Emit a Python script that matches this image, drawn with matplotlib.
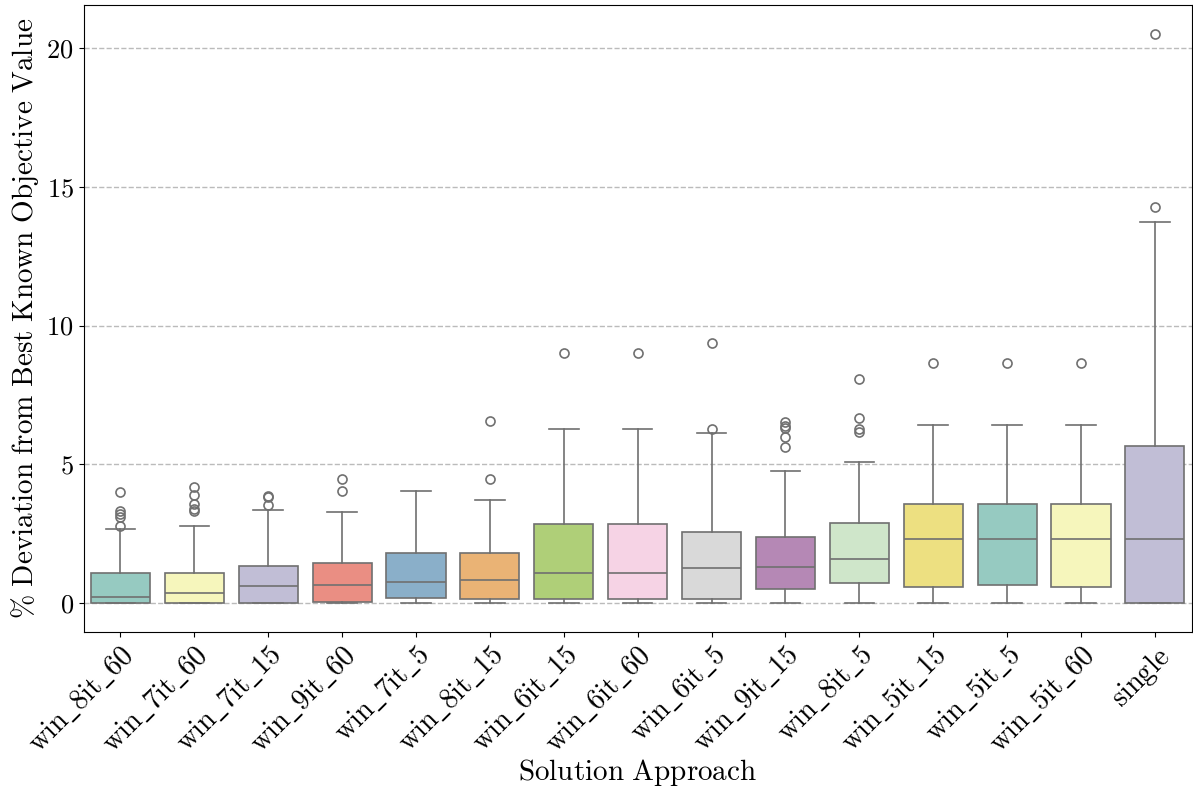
import colorsys
import matplotlib
matplotlib.use("Agg")
import matplotlib.pyplot as plt
from matplotlib.colors import to_rgb

plt.rcParams['mathtext.fontset'] = 'cm'
plt.rcParams['font.family'] = ['cmr10', 'DejaVu Serif']
plt.rcParams['axes.formatter.use_mathtext'] = True

approaches = ['win_8it_60', 'win_7it_60', 'win_7it_15', 'win_9it_60', 'win_7it_5',
              'win_8it_15', 'win_6it_15', 'win_6it_60', 'win_6it_5', 'win_9it_15',
              'win_8it_5', 'win_5it_15', 'win_5it_5', 'win_5it_60', 'single']

# quartiles, medians and whisker ends (% deviation)
q1 = [0.0, 0.0, 0.0, 0.04, 0.2, 0.17, 0.17, 0.17, 0.17, 0.53, 0.75, 0.6, 0.67, 0.6, 0.0]
med = [0.24, 0.38, 0.61, 0.67, 0.78, 0.83, 1.11, 1.11, 1.29, 1.32, 1.61, 2.32, 2.32, 2.32, 2.32]
q3 = [1.11, 1.11, 1.36, 1.47, 1.83, 1.80, 2.87, 2.87, 2.57, 2.38, 2.91, 3.59, 3.59, 3.59, 5.67]
whislo = [0.0, 0.0, 0.0, 0.0, 0.0, 0.0, 0.0, 0.0, 0.0, 0.0, 0.0, 0.0, 0.0, 0.0, 0.0]
whishi = [2.69, 2.8, 3.35, 3.28, 4.04, 3.71, 6.27, 6.27, 6.14, 4.77, 5.09, 6.41, 6.41, 6.41, 13.72]
outliers = [
    [4.0, 3.32, 3.2, 3.1, 2.78],
    [4.19, 3.9, 3.56, 3.38, 3.33],
    [3.87, 3.82, 3.53],
    [4.48, 4.04],
    [],
    [6.57, 4.49],
    [9.0],
    [9.0],
    [9.39, 6.28],
    [6.53, 6.38, 6.3, 6.0, 5.62],
    [8.07, 6.68, 6.29, 6.17],
    [8.66],
    [8.66],
    [8.66],
    [20.5, 14.27],
]

set3 = ['#8dd3c7', '#ffffb3', '#bebada', '#fb8072', '#80b1d3', '#fdb462',
        '#b3de69', '#fccde5', '#d9d9d9', '#bc80bd', '#ccebc5', '#ffed6f']


def desat(c, prop=0.75):
    h, l, s = colorsys.rgb_to_hls(*to_rgb(c))
    return colorsys.hls_to_rgb(h, l, s * prop)


def tex(s):
    return r'$\mathrm{' + s.replace('_', r'\_').replace(' ', r'\ ') + '}$'


stats = []
for i, name in enumerate(approaches):
    stats.append(dict(label=tex(name), q1=q1[i], med=med[i], q3=q3[i],
                      whislo=whislo[i], whishi=whishi[i], fliers=outliers[i]))

line_c = '#707070'
fig = plt.figure(figsize=(11.93, 7.89), dpi=100)
ax = fig.add_axes([0.07, 0.199, 0.929, 0.795])
bp = ax.bxp(stats, positions=range(len(stats)), widths=0.8, capwidths=0.4,
            patch_artist=True,
            boxprops=dict(edgecolor=line_c, linewidth=1.2),
            medianprops=dict(color=line_c, linewidth=1.2),
            whiskerprops=dict(color=line_c, linewidth=1.2),
            capprops=dict(color=line_c, linewidth=1.2),
            flierprops=dict(marker='o', markerfacecolor='none',
                            markeredgecolor=line_c, markersize=6.5,
                            markeredgewidth=1.2))
for i, box in enumerate(bp['boxes']):
    box.set_facecolor(desat(set3[i % len(set3)]))

ax.set_xlim(-0.5, len(stats) - 0.5)
ax.set_ylim(-1.03, 21.55)
ax.set_yticks([0, 5, 10, 15, 20])
ax.set_yticklabels([tex(str(v)) for v in [0, 5, 10, 15, 20]])
ax.yaxis.grid(True, linestyle='--', color='#bbbbbb', linewidth=1.0)
ax.set_axisbelow(True)
ax.tick_params(axis='y', labelsize=19)
ax.tick_params(axis='x', labelsize=20.5)
plt.setp(ax.get_xticklabels(), rotation=45, ha='right', rotation_mode='anchor')
ax.set_xlabel(tex('Solution Approach'), fontsize=21)
ax.xaxis.set_label_coords(0.5, -0.2)
ax.set_ylabel(r'$\mathrm{\%\ Deviation\ from\ Best\ Known\ Objective\ Value}$', fontsize=21)

fig.savefig('out.png', dpi=100)
